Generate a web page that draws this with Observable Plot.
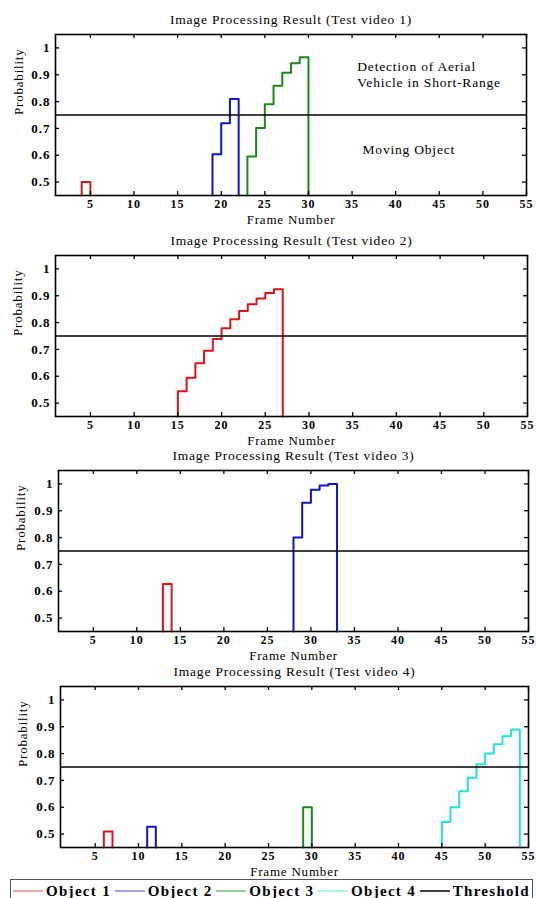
<!DOCTYPE html>
<html>
<head>
<meta charset="utf-8">
<script src="https://cdn.jsdelivr.net/npm/d3@7"></script>
<script src="https://cdn.jsdelivr.net/npm/@observablehq/plot@0.6"></script>
<style>
  html, body { margin: 0; padding: 0; background: #fff; }
  #root { position: relative; width: 536px; height: 898px; overflow: hidden; background: #fff; }
  #root > svg { position: absolute; left: 0; overflow: visible; }
  #legend {
    position: absolute; left: 10px; top: 879px; width: 523px; height: 24px;
    border: 1px solid #555; box-sizing: border-box; display: flex; align-items: center;
    justify-content: space-between; padding: 0 2px 0 2px;
    font-family: "Liberation Serif", "Times New Roman", serif; font-weight: bold;
    font-size: 15px; letter-spacing: 1.3px; color: #000; white-space: nowrap;
  }
  #legend .item { display: flex; align-items: center; }
  #legend .item svg { margin-right: 3px; display: block; }
</style>
</head>
<body>
<div id="root"></div>
<script>
// ---------------- data ----------------
const objectNames = ["Object 1", "Object 2", "Object 3", "Object 4"];
const frameTicks = [5, 10, 15, 20, 25, 30, 35, 40, 45, 50, 55];
const probTicks = [0.5, 0.6, 0.7, 0.8, 0.9, 1];
const threshold = 0.75;

const videoTitles = [
  "Image Processing Result (Test video 1)",
  "Image Processing Result (Test video 2)",
  "Image Processing Result (Test video 3)",
  "Image Processing Result (Test video 4)"
];

// first frame of each object's detection (null = absent), per video
const video1Starts = [4, 19, 23, null];
const video1Probs = [
  [0.50],
  [0.604, 0.719, 0.81],
  [0.595, 0.702, 0.79, 0.859, 0.907, 0.943, 0.965],
  []
];
const video2Starts = [15, null, null, null];
const video2Probs = [
  [0.544, 0.594, 0.648, 0.695, 0.739, 0.779, 0.812, 0.843, 0.868, 0.89, 0.91, 0.924],
  [], [], []
];
const video3Starts = [13, 28, null, null];
const video3Probs = [
  [0.627],
  [0.80, 0.93, 0.978, 0.994, 1.0],
  [], []
];
const video4Starts = [6, 11, 29, 45];
const video4Probs = [
  [0.51],
  [0.527],
  [0.60],
  [0.545, 0.60, 0.66, 0.71, 0.76, 0.80, 0.835, 0.865, 0.89]
];

const annotationTexts = ["Detection of Aerial\nVehicle in Short-Range", "Moving Object"];
const annotationFrames = [35.6, 36.2];
const annotationProbs = [0.904, 0.623];

// ---------------- styling / layout ----------------
const colors = ["#e3111b", "#1111d4", "#178a17", "#22e2e2"];
const serif = "'Liberation Serif', 'Times New Roman', serif";
const xDomain = [1, 55];
const yDomain = [0.45, 1.05];

const panels = [
  {starts: video1Starts, probs: video1Probs, top: 0,   height: 228, ml: 55, mr: 10, mt: 34, mb: 33, ylab: -37, annotate: true},
  {starts: video2Starts, probs: video2Probs, top: 226, height: 218, ml: 55, mr: 9,  mt: 29, mb: 28, ylab: -38},
  {starts: video3Starts, probs: video3Probs, top: 444, height: 218, ml: 58, mr: 8,  mt: 26, mb: 31, ylab: -38},
  {starts: video4Starts, probs: video4Probs, top: 660, height: 218, ml: 60, mr: 8,  mt: 26, mb: 31, ylab: -38}
];

function stepPoints(starts, probs) {
  const base = yDomain[0];
  const pts = [];
  starts.forEach((s, k) => {
    if (s == null || probs[k].length === 0) return;
    const name = objectNames[k];
    pts.push({frame: s, prob: base, object: name});
    probs[k].forEach((p, i) => pts.push({frame: s + i, prob: p, object: name}));
    pts.push({frame: s + probs[k].length, prob: base, object: name});
  });
  return pts;
}

const root = document.getElementById("root");

panels.forEach((pn, idx) => {
  const W = 536;
  const innerW = W - pn.ml - pn.mr;
  const innerH = pn.height - pn.mt - pn.mb;
  const marks = [
    Plot.line(stepPoints(pn.starts, pn.probs), {
      x: "frame", y: "prob", z: "object", stroke: "object",
      curve: "step-after", strokeWidth: 2
    }),
    Plot.ruleY([threshold], {stroke: "#000", strokeWidth: 1.6}),
    Plot.frame({stroke: "#000", strokeWidth: 1.6}),
    // inward ticks on all four sides
    Plot.tickX(frameTicks, {x: d => d, insetTop: innerH - 4, stroke: "#000", strokeWidth: 1.3}),
    Plot.tickX(frameTicks, {x: d => d, insetBottom: innerH - 4, stroke: "#000", strokeWidth: 1.3}),
    Plot.tickY(probTicks, {y: d => d, insetRight: innerW - 4, stroke: "#000", strokeWidth: 1.3}),
    Plot.tickY(probTicks, {y: d => d, insetLeft: innerW - 4, stroke: "#000", strokeWidth: 1.3}),
    // tick labels
    Plot.text(frameTicks, {x: d => d, frameAnchor: "bottom", lineAnchor: "middle", dy: 9, text: d => String(d),
      fontFamily: serif, fontWeight: "bold", fontSize: 12, fill: "#000"}),
    Plot.text(probTicks, {y: d => d, frameAnchor: "left", lineAnchor: "middle", dx: -5, textAnchor: "end", text: d => String(d),
      fontFamily: serif, fontWeight: "bold", fontSize: 13, fill: "#000"}),
    // axis labels and title
    Plot.text(["Frame Number"], {frameAnchor: "bottom", lineAnchor: "middle", dy: 24, text: d => d,
      fontFamily: serif, fontSize: 13, fill: "#000"}),
    Plot.text(["Probability"], {frameAnchor: "left", lineAnchor: "middle", dx: pn.ylab, rotate: -90, text: d => d,
      fontFamily: serif, fontSize: 13, fill: "#000"}),
    Plot.text([videoTitles[idx]], {frameAnchor: "top", lineAnchor: "middle", dy: -15, text: d => d,
      fontFamily: serif, fontSize: 13.5, fill: "#000"})
  ];
  if (pn.annotate) {
    marks.push(Plot.text(annotationTexts, {
      x: (d, i) => annotationFrames[i], y: (d, i) => annotationProbs[i], text: d => d,
      textAnchor: "start", lineAnchor: "middle", lineHeight: 1.2, fontFamily: serif, fontSize: 13.5, fill: "#000"
    }));
  }
  const svg = Plot.plot({
    width: W, height: pn.height,
    marginLeft: pn.ml, marginRight: pn.mr, marginTop: pn.mt, marginBottom: pn.mb,
    x: {domain: xDomain, axis: null},
    y: {domain: yDomain, axis: null},
    color: {domain: objectNames, range: colors},
    style: {fontFamily: serif, background: "transparent", overflow: "visible"},
    marks
  });
  svg.style.top = pn.top + "px";
  svg.querySelectorAll("text").forEach(t => {
    const fw = t.closest("[font-weight]");
    t.style.letterSpacing = (fw && fw.getAttribute("font-weight") === "bold") ? "1px" : "0.8px";
  });
  root.appendChild(svg);
});

// legend
const legendColors = ["#e86a6a", "#6a6ad8", "#5aa85a", "#80e8e8", "#000"];
const legendWidths = [1.2, 1.2, 1.2, 1.2, 1.5];
const legendLabels = objectNames.concat(["Threshold"]);
const legend = document.createElement("div");
legend.id = "legend";
const NS = "http://www.w3.org/2000/svg";
legendLabels.forEach((lab, i) => {
  const item = document.createElement("div");
  item.className = "item";
  const sw = document.createElementNS(NS, "svg");
  sw.setAttribute("width", "30");
  sw.setAttribute("height", "6");
  const ln = document.createElementNS(NS, "line");
  ln.setAttribute("x1", "0"); ln.setAttribute("x2", "30");
  ln.setAttribute("y1", "3"); ln.setAttribute("y2", "3");
  ln.setAttribute("stroke", legendColors[i]);
  ln.setAttribute("stroke-width", legendWidths[i]);
  sw.appendChild(ln);
  const tx = document.createElement("span");
  tx.textContent = lab;
  item.appendChild(sw);
  item.appendChild(tx);
  legend.appendChild(item);
});
root.appendChild(legend);
</script>
</body>
</html>
